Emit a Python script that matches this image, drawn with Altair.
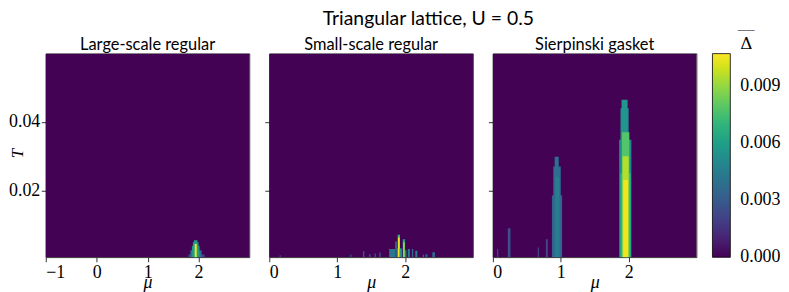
import altair as alt
import pandas as pd

# ---------------- data ----------------
T_MIN = 0.0004
T_MAX = 0.06
D_MIN = -0.00002
D_MAX = 0.0107

panel_titles = ["Large-scale regular", "Small-scale regular", "Sierpinski gasket"]
mu_domains = [[-1, 3], [0, 3], [0, 3]]
mu_ticks = [[-1, 0, 1, 2], [0, 1, 2], [0, 1, 2]]
T_ticks = [0.02, 0.04]
cbar_ticks = [0.0, 0.003, 0.006, 0.009]

# Large-scale regular: gap regions (mu from, mu to, top T, Delta)
p1_mu_lo = [1.80, 1.84, 1.87, 1.89, 1.91, 1.925]
p1_mu_hi = [2.12, 2.06, 2.02, 2.00, 1.98, 1.965]
p1_t_top = [0.0012, 0.0025, 0.0038, 0.0048, 0.0054, 0.0043]
p1_delta = [0.0022, 0.0040, 0.0056, 0.0062, 0.0060, 0.0105]

# Small-scale regular
p2_mu_lo = [0.15, 1.19, 1.38, 1.47, 1.55, 1.62, 1.765, 1.853, 1.88, 1.89, 1.895, 1.92,
            1.965, 1.97, 2.00, 2.04, 2.10, 2.15, 2.26, 2.30, 2.40]
p2_mu_hi = [0.17, 1.21, 1.40, 1.49, 1.57, 1.64, 1.853, 1.88, 1.95, 1.925, 1.92, 1.95,
            2.00, 1.995, 2.02, 2.07, 2.12, 2.18, 2.28, 2.33, 2.44]
p2_t_top = [0.0010, 0.0012, 0.0022, 0.0014, 0.0015, 0.0018, 0.0028, 0.0050, 0.0030, 0.0070,
            0.0062, 0.0030, 0.0057, 0.0048, 0.0025, 0.0028, 0.0028, 0.0023, 0.0012, 0.0013,
            0.0019]
p2_delta = [0.0022, 0.0022, 0.0030, 0.0026, 0.0026, 0.0028, 0.0042, 0.0032, 0.0050, 0.0070,
            0.0105, 0.0055, 0.0060, 0.0090, 0.0050, 0.0045, 0.0035, 0.0045, 0.0030, 0.0032,
            0.0035]

# Sierpinski gasket
p3_mu_lo = [0.06, 0.22, 0.66, 0.78, 0.87, 0.89, 0.91, 0.92,
            1.86, 1.88, 1.895, 1.88, 1.90, 1.91, 1.92]
p3_mu_hi = [0.08, 0.26, 0.68, 0.81, 1.02, 1.00, 0.97, 0.98,
            2.04, 2.00, 1.985, 2.03, 2.01, 2.00, 1.99]
p3_t_top = [0.0028, 0.0089, 0.0033, 0.0057, 0.0185, 0.0270, 0.0298, 0.0240,
            0.0348, 0.0440, 0.0465, 0.0250, 0.0370, 0.0300, 0.0230]
p3_delta = [0.0020, 0.0025, 0.0020, 0.0022, 0.0032, 0.0037, 0.0038, 0.0045,
            0.0050, 0.0052, 0.0056, 0.0070, 0.0078, 0.0095, 0.0105]

panels = [
    (p1_mu_lo, p1_mu_hi, p1_t_top, p1_delta),
    (p2_mu_lo, p2_mu_hi, p2_t_top, p2_delta),
    (p3_mu_lo, p3_mu_hi, p3_t_top, p3_delta),
]

SERIF = "Liberation Serif"
SANS = "Lato"


def panel_df(i):
    mu_lo, mu_hi, t_top, delta = panels[i]
    dom = mu_domains[i]
    rows = [dict(mu_lo=dom[0], mu_hi=dom[1], t_lo=T_MIN, t_hi=T_MAX, delta=0.0)]
    for a, b, t, d in zip(mu_lo, mu_hi, t_top, delta):
        rows.append(dict(mu_lo=a, mu_hi=b, t_lo=T_MIN, t_hi=t, delta=d))
    return pd.DataFrame(rows)


color_enc = alt.Color(
    "delta:Q",
    scale=alt.Scale(scheme="viridis", domain=[D_MIN, D_MAX], clamp=True),
    legend=alt.Legend(
        title=["\u203e\u203e", "Δ"],
        orient="none",
        legendX=671,
        legendY=-24,
        direction="vertical",
        gradientLength=205,
        gradientThickness=18,
        gradientStrokeColor="black",
        gradientStrokeWidth=0.8,
        values=cbar_ticks,
        format=".3f",
        labelFont=SERIF,
        labelFontSize=18,
        labelColor="black",
        labelOffset=10,
        labelBaseline="middle",
        labelOverlap=False,
        titleFont="DejaVu Serif",
        titleFontSize=17,
        titleLineHeight=6,
        titleFontWeight="normal",
        titleColor="black",
        titleAnchor="middle",
        titleAlign="center",
        titlePadding=1,
        padding=0,
    ),
)


def make_panel(i):
    first = i == 0
    if first:
        y_axis = alt.Axis(
            values=T_ticks,
            format=".2f",
            title="T",
            titleX=-23,
            titleY=100,
            titleAngle=270,
            titleBaseline="alphabetic",
            titleFontSize=17,
        )
    else:
        y_axis = alt.Axis(values=T_ticks, labels=False, title=None)
    return (
        alt.Chart(panel_df(i))
        .mark_rect(clip=True, strokeWidth=0)
        .encode(
            x=alt.X(
                "mu_lo:Q",
                scale=alt.Scale(domain=mu_domains[i], nice=False, zero=False),
                axis=alt.Axis(
                    values=mu_ticks[i], format="d", title="μ",
                    titleY=30, titleBaseline="alphabetic",
                ),
            ),
            x2="mu_hi",
            y=alt.Y(
                "t_lo:Q",
                scale=alt.Scale(domain=[T_MIN, T_MAX], nice=False, zero=False),
                axis=y_axis,
            ),
            y2="t_hi",
            color=color_enc,
        )
        .properties(
            width=205,
            height=205,
            title=alt.TitleParams(
                panel_titles[i], font=SANS, fontSize=16.5, fontWeight="normal",
                color="black", offset=0,
            ),
        )
    )


chart = (
    alt.hconcat(make_panel(0), make_panel(1), make_panel(2), spacing=20, bounds="flush")
    .resolve_scale(x="independent", y="independent", color="shared")
    .properties(
        title=alt.TitleParams(
            "Triangular lattice, U = 0.5", font=SANS, fontSize=19.5, fontWeight="normal",
            color="black", anchor="middle", dx=34, offset=0,
        ),
        padding={"left": 0, "top": 0, "right": 0, "bottom": 0},
        background="white",
    )
    .configure_view(stroke="black", strokeWidth=0.8)
    .configure_axis(
        domain=False,
        tickColor="black",
        tickWidth=0.8,
        tickSize=4.5,
        labelFont=SERIF,
        labelFontSize=18,
        labelColor="black",
        labelPadding=1.5,
        titleFont=SERIF,
        titleFontSize=18,
        titleFontStyle="italic",
        titleFontWeight="normal",
        titleColor="black",
        grid=False,
    )
)

chart.save("out.html", embed_options={"renderer": "svg", "actions": False})
